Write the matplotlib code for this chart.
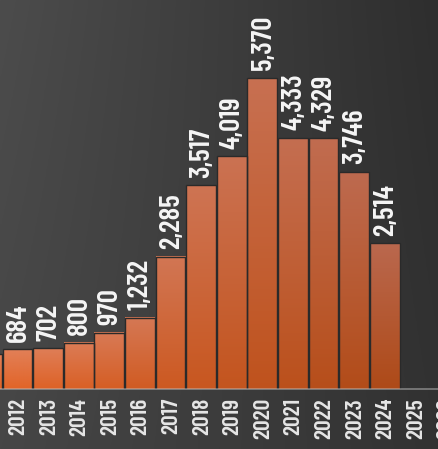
import numpy as np
import matplotlib
matplotlib.use("Agg")
import matplotlib.pyplot as plt
from matplotlib.patches import Rectangle
from matplotlib.transforms import blended_transform_factory

years = [2011, 2012, 2013, 2014, 2015, 2016, 2017, 2018, 2019, 2020, 2021, 2022, 2023, 2024, 2025, 2026]
values = [600, 684, 702, 800, 970, 1232, 2285, 3517, 4019, 5370, 4333, 4329, 3746, 2514, None, None]
show_label = [False] + [True] * 13 + [False, False]

FONT = ["Barlow Condensed", "DejaVu Sans"]

W, H = 439, 449
fig = plt.figure(figsize=(W / 100, H / 100), dpi=100)

# background gradient
bg = fig.add_axes([0, 0, 1, 1])
bg.set_axis_off()
xx, yy = np.meshgrid(np.linspace(0, 1, 200), np.linspace(0, 1, 200))
tl, tr, bl, br = np.array([76, 76, 76]), np.array([46, 46, 46]), np.array([70, 70, 70]), np.array([50, 50, 50])
img = ((1 - xx)[..., None] * ((1 - yy)[..., None] * tl + yy[..., None] * bl)
       + xx[..., None] * ((1 - yy)[..., None] * tr + yy[..., None] * br)) / 255
bg.imshow(img, extent=(0, 1, 0, 1), aspect="auto", origin="upper")
bg.set_xlim(0, 1); bg.set_ylim(0, 1)

base_px = 389
ax = fig.add_axes([0, (H - base_px) / H, 1, base_px / H])
ax.set_axis_off()
ax.patch.set_alpha(0)

pitch = 30.6
x0_px = 17.5
xmin = 1 - x0_px / pitch
xmax = xmin + W / pitch
ymax = base_px / 0.0579

xs = np.arange(len(years))
bw = 0.97
for i, (x, v) in enumerate(zip(xs, values)):
    if v is None:
        continue
    f = min(max((i - 1) / 12.0, 0), 1)
    top = (1 - f) * np.array([226, 128, 88]) + f * np.array([186, 104, 78])
    bot = (1 - f) * np.array([226, 100, 40]) + f * np.array([174, 74, 24])
    t = np.linspace(0, 1, 100)[:, None]
    grad = (((1 - t) * top + t * bot) / 255)[:, None, :]
    ax.imshow(grad, extent=(x - bw / 2, x + bw / 2, 0, v), aspect="auto", origin="upper", zorder=2)
    ax.add_patch(Rectangle((x - bw / 2, 0), bw, v, facecolor="none", edgecolor="#2a2a2a", lw=1.0, zorder=3))
    if show_label[i]:
        ax.annotate(f"{v:,}", (x, v), xytext=(0.5, 5.5), textcoords="offset points",
                    rotation=90, ha="center", va="bottom", color="#f6f6f6",
                    fontsize=21, fontweight=600, family=FONT,
                    zorder=5, annotation_clip=False)

ax.set_xlim(xmin, xmax)
ax.set_ylim(0, ymax)

# baseline
ax.axhline(0, color="white", alpha=0.35, lw=1.3, zorder=4, clip_on=False)

trans = blended_transform_factory(ax.transData, ax.transAxes)
for i, (x, yr) in enumerate(zip(xs, years)):
    if yr == 2011:
        continue
    ax.annotate(str(yr), (x, 0), xycoords=trans, xytext=(0.5, -6.5), textcoords="offset points",
                rotation=90, ha="center", va="top", color="#e6e6e6",
                fontsize=17, fontweight=600, family=FONT,
                annotation_clip=False)

fig.savefig("out.png", dpi=100)
